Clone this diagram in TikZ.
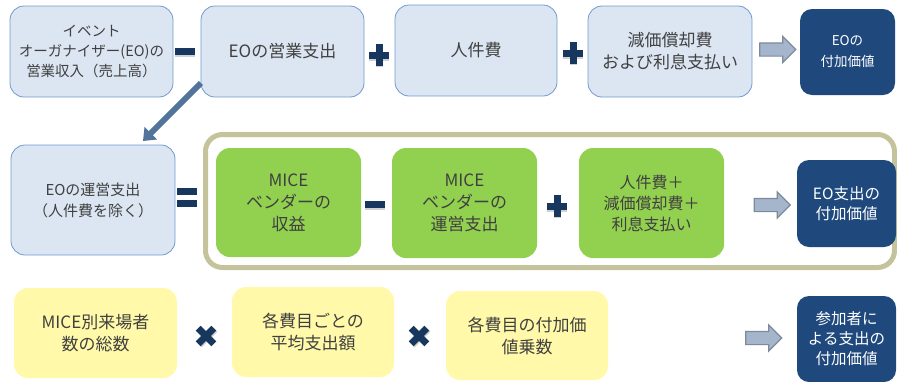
\documentclass[tikz,border=0pt]{standalone}
\usepackage{fontspec}
\newfontfamily\jp{Noto Sans CJK JP}
\usetikzlibrary{arrows.meta,shapes.arrows}
\definecolor{lb}{HTML}{DCE6F2}
\definecolor{lbline}{HTML}{7199CE}
\definecolor{gr}{HTML}{92D050}
\definecolor{yl}{HTML}{FFF9A9}
\definecolor{dk}{HTML}{1F497D}
\definecolor{txt}{HTML}{404040}
\definecolor{op}{HTML}{17375E}
\definecolor{frm}{HTML}{C4C39C}
\definecolor{arf}{HTML}{A5B5CC}
\definecolor{ard}{HTML}{7D8A9C}
\definecolor{diag}{HTML}{52739A}
\tikzset{
  basebox/.style={align=center, inner sep=0pt, text=txt, rounded corners=14pt,
    font=\jp\fontsize{17}{22}\selectfont},
  lbox/.style={basebox, draw=lbline, line width=0.8pt, fill=lb},
  gbox/.style={basebox, fill=gr},
  ybox/.style={basebox, fill=yl},
  dbox/.style={basebox, fill=dk, text=white, rounded corners=12pt,
    font=\jp\fontsize{15.5}{20}\selectfont},
  rarrow/.style={single arrow, draw=ard, line width=1.2pt, fill=arf,
    minimum height=36pt, inner xsep=0pt, inner ysep=6pt,
    single arrow head extend=6.5pt, single arrow tip angle=90},
  opbar/.style={fill=op},
  opshadow/.style={fill=black, opacity=0.18},
  minuspic/.pic={
    \fill[opshadow] (-10,-2.5) rectangle (10,5.5);
    \fill[opbar] (-10,-3.5) rectangle (10,3.5);},
  pluspic/.pic={
    \fill[opshadow] (-10,-2.5) rectangle (10,5.5);
    \fill[opshadow] (-3.5,-9) rectangle (3.5,12);
    \fill[opbar] (-10,-3.5) rectangle (10,3.5);
    \fill[opbar] (-3.5,-11) rectangle (3.5,11);},
  equalspic/.pic={
    \fill[opshadow] (-10,-8) rectangle (10,-3);
    \fill[opshadow] (-10,4) rectangle (10,9);
    \fill[opbar] (-10,-9.5) rectangle (10,-3);
    \fill[opbar] (-10,2.5) rectangle (10,9);},
  timespic/.pic={
    \fill[opshadow, rotate=45] (-11,-2) rectangle (11,5);
    \fill[opbar, rotate=45] (-11,-3.5) rectangle (11,3.5);
    \fill[opbar, rotate=-45] (-11,-3.5) rectangle (11,3.5);},
}
\begin{document}
\begin{tikzpicture}[x=1pt, y=-1pt]
\useasboundingbox (0,0) rectangle (897,381);
% row 1
\node[lbox, minimum width=163pt, minimum height=91pt,
  font=\jp\fontsize{14.5}{20}\selectfont] (A) at (91.5,51.5)
  {イベント\\オーガナイザー(EO)の\\営業収入（売上高）};
\node[lbox, minimum width=163pt, minimum height=91pt] (B) at (282.5,51.5) {EOの営業支出};
\node[lbox, minimum width=162pt, minimum height=91pt] (C) at (476,50.5) {人件費};
\node[lbox, minimum width=164pt, minimum height=91pt] (D) at (670,51.5) {減価償却費\\および利息支払い};
\node[rarrow] (R1) at (774.5,49.5) {};
\node[dbox, minimum width=95pt, minimum height=86pt,
  font=\jp\fontsize{13.5}{21}\selectfont] (E) at (847.5,52) {EOの\\付加価値};
\pic at (185,51.5) {minuspic};
\pic at (379,55) {pluspic};
\pic at (573,53) {pluspic};
% diagonal arrow
\coordinate (ds) at (201,83);
\coordinate (de) at (143,141);
\draw[diag, line width=6pt, -{Triangle[length=11pt,width=17pt]}] (ds) -- (de);
% row 2
\node[lbox, minimum width=164pt, minimum height=110pt,
  font=\jp\fontsize{15}{21}\selectfont] (F) at (93,200) {EOの運営支出\\（人件費を除く）};
\node[draw=frm, line width=5pt, rounded corners=17pt, minimum width=689pt,
  minimum height=133pt] (frame) at (550,201) {};
\pic at (187,197.5) {equalspic};
\node[gbox, minimum width=145pt, minimum height=109pt] (G1) at (288.5,202.5) {MICE\\ベンダーの\\収益};
\node[gbox, minimum width=145pt, minimum height=110pt] (G2) at (464.5,203) {MICE\\ベンダーの\\運営支出};
\node[gbox, minimum width=145pt, minimum height=110pt,
  font=\jp\fontsize{16}{21}\selectfont] (G3) at (651.5,203) {人件費＋\\減価償却費＋\\利息支払い};
\pic at (375,204) {minuspic};
\pic at (557,206) {pluspic};
\node[rarrow] (R2) at (769,205) {};
\node[dbox, minimum width=99pt, minimum height=87pt] (H) at (846.5,203.5) {EO支出の\\付加価値};
% row 3
\node[ybox, minimum width=163pt, minimum height=90pt] (Y1) at (95.5,333) {MICE別来場者\\数の総数};
\node[ybox, minimum width=162pt, minimum height=90pt] (Y2) at (313,332) {各費目ごとの\\平均支出額};
\node[ybox, minimum width=162pt, minimum height=89pt] (Y3) at (527,335.5) {各費目の付加価\\値乗数};
\pic at (206,336) {timespic};
\pic at (419,336) {timespic};
\node[rarrow] (R3) at (760.5,338) {};
\node[dbox, minimum width=99pt, minimum height=86pt] (I) at (846.5,339) {参加者に\\よる支出の\\付加価値};
\end{tikzpicture}
\end{document}
